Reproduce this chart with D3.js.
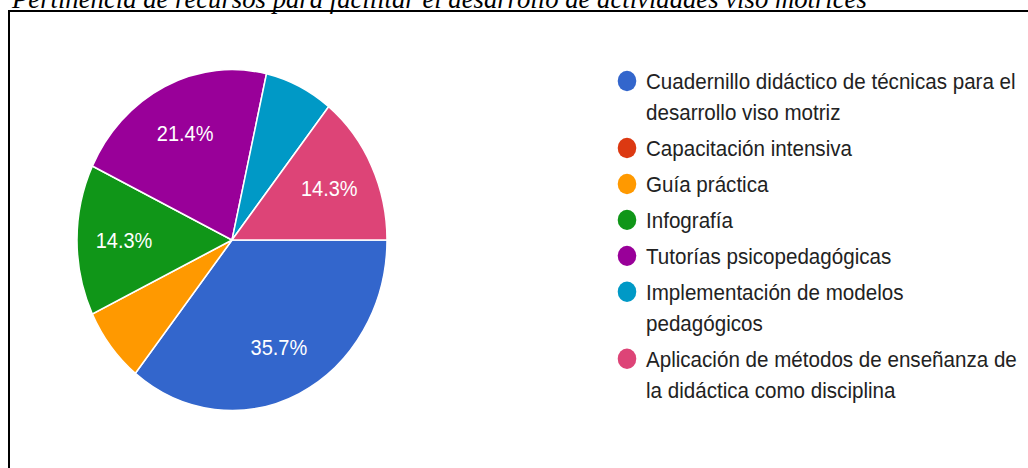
<!DOCTYPE html>
<html lang="es">
<head>
  <meta charset="UTF-8" />
  <title>Pertinencia de recursos</title>
  <script src="https://d3js.org/d3.v7.min.js"></script>
  <style>
    html, body { margin: 0; padding: 0; background: #fff; }
    svg { display: block; }
    .title { font-family: "Liberation Serif", "Times New Roman", serif; font-style: italic; font-size: 26.7px; fill: #000; }
    .legend text { font-family: "Liberation Sans", Arial, sans-serif; font-size: 20.6px; fill: #222; }
    .pct { font-family: "Liberation Sans", Arial, sans-serif; font-size: 20px; fill: #fff; }
  </style>
</head>
<body>
  <svg width="1028" height="468"></svg>
  <script>
    // respuestas por recurso
    const categories = [
      ["Cuadernillo didáctico de técnicas para el", "desarrollo viso motriz"],
      ["Capacitación intensiva"],
      ["Guía práctica"],
      ["Infografía"],
      ["Tutorías psicopedagógicas"],
      ["Implementación de modelos", "pedagógicos"],
      ["Aplicación de métodos de enseñanza de", "la didáctica como disciplina"]
    ];
    const counts = [5, 0, 1, 2, 3, 1, 2];
    const colors = ["#3366cc", "#dc3912", "#ff9900", "#109618", "#990099", "#0099c6", "#dd4477"];
    const titleText = "Pertinencia de recursos para facilitar el desarrollo de actividades viso motrices";

    const svg = d3.select("svg");
    const total = d3.sum(counts);
    const data = counts.map((v, i) => ({ label: categories[i], value: v, color: colors[i] }));

    svg.append("text")
      .attr("class", "title")
      .attr("x", 12)
      .attr("y", 8)
      .text(titleText);

    // frame
    svg.append("path")
      .attr("d", "M9,468 V11 H1028")
      .attr("fill", "none")
      .attr("stroke", "#000")
      .attr("stroke-width", 2);

    // the original image is stretched vertically a bit
    const chart = svg.append("g").attr("transform", "scale(1,1.1)");

    const radius = 155;
    const pieG = chart.append("g").attr("transform", "translate(232,218.2)");

    const pie = d3.pie()
      .value(d => d.value)
      .sort(null)
      .startAngle(Math.PI / 2)
      .endAngle(Math.PI / 2 + 2 * Math.PI);

    const arc = d3.arc().innerRadius(0).outerRadius(radius);
    const labelArc = d3.arc().innerRadius(108).outerRadius(108);

    const arcs = pie(data);

    pieG.selectAll("path")
      .data(arcs.filter(d => d.data.value > 0))
      .enter()
      .append("path")
      .attr("d", arc)
      .attr("fill", d => d.data.color)
      .attr("stroke", "#fff")
      .attr("stroke-width", 1.5);

    pieG.selectAll("text")
      .data(arcs.filter(d => d.data.value / total > 0.1))
      .enter()
      .append("text")
      .attr("class", "pct")
      .attr("transform", d => `translate(${labelArc.centroid(d)})`)
      .attr("text-anchor", "middle")
      .attr("dy", "0.36em")
      .text(d => (d.data.value / total * 100).toFixed(1) + "%");

    // legend
    const legend = chart.append("g").attr("class", "legend");
    const lineGap = 28.2, itemGap = 32.7;
    let y = 73.6;
    data.forEach(d => {
      const item = legend.append("g").attr("transform", `translate(0,${y})`);
      item.append("circle")
        .attr("cx", 627)
        .attr("cy", 0)
        .attr("r", 9.3)
        .attr("fill", d.color);
      d.label.forEach((line, j) => {
        item.append("text")
          .attr("x", 646)
          .attr("y", j * lineGap)
          .attr("dy", "0.35em")
          .text(line);
      });
      y += (d.label.length - 1) * lineGap + itemGap;
    });
  </script>
</body>
</html>
